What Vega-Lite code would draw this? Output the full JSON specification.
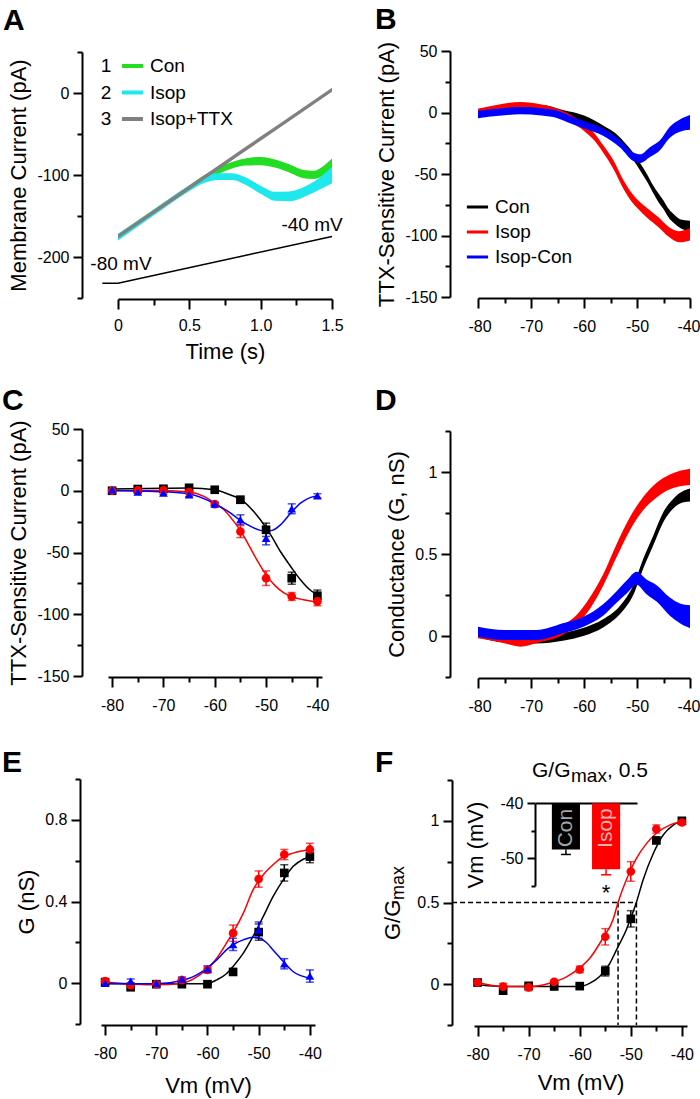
{
"$schema": "https://vega.github.io/schema/vega-lite/v6.json",
"width": 700, "height": 1099, "autosize": "none", "padding": 0, "background": "#ffffff",
"config": {
  "font": "Liberation Sans",
  "view": {"stroke": null},
  "axis": {"grid": false, "domainColor": "#000000", "domainWidth": 2, "tickColor": "#000000", "tickWidth": 2, "labelColor": "#000000", "titleColor": "#000000", "labelFontSize": 16, "titleFontSize": 22, "titleFontWeight": "normal", "labelFlush": false, "labelOverlap": false},
  "locale": {"number": {"decimal": ".", "thousands": ",", "grouping": [3], "currency": ["$", ""], "minus": "-"}}
},
"datasets": {
  "aTrace": [
    {"s":"Con","t":0,"lo":-178,"hi":-172},{"s":"Con","t":0.25,"lo":-148,"hi":-142},{"s":"Con","t":0.5,"lo":-118.5,"hi":-112.5},{"s":"Con","t":0.6,"lo":-107.5,"hi":-100.5},{"s":"Con","t":0.7,"lo":-99,"hi":-91},{"s":"Con","t":0.8,"lo":-92,"hi":-84},{"s":"Con","t":0.9,"lo":-88.5,"hi":-79.5},{"s":"Con","t":1.0,"lo":-88,"hi":-78},{"s":"Con","t":1.1,"lo":-91,"hi":-81},{"s":"Con","t":1.2,"lo":-97,"hi":-87},{"s":"Con","t":1.3,"lo":-104,"hi":-94},{"s":"Con","t":1.37,"lo":-105,"hi":-95},{"s":"Con","t":1.44,"lo":-101,"hi":-89},{"s":"Con","t":1.5,"lo":-96,"hi":-80},
    {"s":"Isop","t":0,"lo":-180,"hi":-172},{"s":"Isop","t":0.25,"lo":-149.5,"hi":-142.5},{"s":"Isop","t":0.5,"lo":-119.5,"hi":-112.5},{"s":"Isop","t":0.6,"lo":-110,"hi":-102},{"s":"Isop","t":0.7,"lo":-106,"hi":-98},{"s":"Isop","t":0.8,"lo":-106,"hi":-98},{"s":"Isop","t":0.9,"lo":-112.5,"hi":-103.5},{"s":"Isop","t":1.0,"lo":-123,"hi":-113},{"s":"Isop","t":1.1,"lo":-131.5,"hi":-120.5},{"s":"Isop","t":1.2,"lo":-132,"hi":-120},{"s":"Isop","t":1.3,"lo":-127,"hi":-115},{"s":"Isop","t":1.4,"lo":-119,"hi":-105},{"s":"Isop","t":1.5,"lo":-110,"hi":-90},
    {"s":"Isop+TTX","t":0,"lo":-177.5,"hi":-172.5},{"s":"Isop+TTX","t":0.25,"lo":-147.7,"hi":-142.7},{"s":"Isop+TTX","t":0.5,"lo":-117.9,"hi":-112.9},{"s":"Isop+TTX","t":0.75,"lo":-88,"hi":-83},{"s":"Isop+TTX","t":1.0,"lo":-58.2,"hi":-53.2},{"s":"Isop+TTX","t":1.25,"lo":-28.4,"hi":-23.4},{"s":"Isop+TTX","t":1.5,"lo":1.5,"hi":6.5}
  ],
  "aRamp": [{"t":-0.11,"v":-232},{"t":0,"v":-232},{"t":1.5,"v":-175}],
  "aLeg": [{"num":"1","label":"Con"},{"num":"2","label":"Isop"},{"num":"3","label":"Isop+TTX"}],
  "leg3": [{"s":"Con"},{"s":"Isop"},{"s":"Isop-Con"}],
  "bTrace": [
    {"s":"Con","v":-80,"lo":-2.2,"hi":2.8},{"s":"Con","v":-76,"lo":0,"hi":5},{"s":"Con","v":-72,"lo":1,"hi":6},{"s":"Con","v":-68,"lo":1,"hi":6},{"s":"Con","v":-64,"lo":-3,"hi":2},{"s":"Con","v":-60,"lo":-7.5,"hi":-2.5},{"s":"Con","v":-58,"lo":-11.5,"hi":-6.5},{"s":"Con","v":-56,"lo":-17.5,"hi":-11.5},{"s":"Con","v":-54,"lo":-23,"hi":-17},{"s":"Con","v":-52,"lo":-32,"hi":-26},{"s":"Con","v":-50,"lo":-43,"hi":-37},{"s":"Con","v":-49,"lo":-50,"hi":-44},{"s":"Con","v":-48,"lo":-57,"hi":-51},{"s":"Con","v":-47,"lo":-65,"hi":-59},{"s":"Con","v":-46,"lo":-72.5,"hi":-65.5},{"s":"Con","v":-45,"lo":-78.5,"hi":-71.5},{"s":"Con","v":-44,"lo":-85.5,"hi":-78.5},{"s":"Con","v":-43,"lo":-90,"hi":-83},{"s":"Con","v":-42,"lo":-93.5,"hi":-86.5},{"s":"Con","v":-41,"lo":-95.5,"hi":-87.5},{"s":"Con","v":-40,"lo":-96,"hi":-88},
    {"s":"Isop","v":-80,"lo":-3,"hi":3},{"s":"Isop","v":-76,"lo":0.5,"hi":6.5},{"s":"Isop","v":-72,"lo":2.5,"hi":8.5},{"s":"Isop","v":-68,"lo":0.5,"hi":6.5},{"s":"Isop","v":-65,"lo":-3,"hi":3},{"s":"Isop","v":-62.5,"lo":-8,"hi":-2},{"s":"Isop","v":-60,"lo":-15,"hi":-9},{"s":"Isop","v":-58,"lo":-23,"hi":-17},{"s":"Isop","v":-56.4,"lo":-32.5,"hi":-26.5},{"s":"Isop","v":-54.5,"lo":-45.5,"hi":-38.5},{"s":"Isop","v":-52.5,"lo":-62.5,"hi":-55.5},{"s":"Isop","v":-51,"lo":-72.5,"hi":-65.5},{"s":"Isop","v":-50,"lo":-77.5,"hi":-70.5},{"s":"Isop","v":-48,"lo":-86,"hi":-78},{"s":"Isop","v":-46,"lo":-93,"hi":-85},{"s":"Isop","v":-44,"lo":-101,"hi":-93},{"s":"Isop","v":-42,"lo":-105.5,"hi":-96.5},{"s":"Isop","v":-40,"lo":-104,"hi":-94},
    {"s":"Isop-Con","v":-80,"lo":-4.6,"hi":1.4},{"s":"Isop-Con","v":-76,"lo":-2.7,"hi":3.3},{"s":"Isop-Con","v":-72,"lo":-1.5,"hi":4.5},{"s":"Isop-Con","v":-68,"lo":-2.5,"hi":3.5},{"s":"Isop-Con","v":-65,"lo":-4.6,"hi":1.4},{"s":"Isop-Con","v":-62.5,"lo":-9,"hi":-3},{"s":"Isop-Con","v":-60,"lo":-13,"hi":-7},{"s":"Isop-Con","v":-56.4,"lo":-19,"hi":-13},{"s":"Isop-Con","v":-53.2,"lo":-28.5,"hi":-22.5},{"s":"Isop-Con","v":-50.7,"lo":-39.5,"hi":-32.5},{"s":"Isop-Con","v":-49.4,"lo":-41,"hi":-34},{"s":"Isop-Con","v":-47.5,"lo":-36,"hi":-28},{"s":"Isop-Con","v":-45.7,"lo":-30.8,"hi":-22.8},{"s":"Isop-Con","v":-43.8,"lo":-20.5,"hi":-11.5},{"s":"Isop-Con","v":-41.9,"lo":-15.6,"hi":-5.6},{"s":"Isop-Con","v":-40,"lo":-14,"hi":-2}
  ],
  "cPts": [
    {"s":"Con","v":-80,"m":0,"e":1},{"s":"Con","v":-75,"m":1.4,"e":1},{"s":"Con","v":-70,"m":1.6,"e":1},{"s":"Con","v":-65,"m":2.4,"e":1},{"s":"Con","v":-60,"m":0.8,"e":1},{"s":"Con","v":-55,"m":-7.3,"e":2.7},{"s":"Con","v":-50,"m":-31.6,"e":5.4},{"s":"Con","v":-45,"m":-70.8,"e":4.9},{"s":"Con","v":-40,"m":-85,"e":4.6},
    {"s":"Isop","v":-80,"m":0,"e":1},{"s":"Isop","v":-75,"m":0.3,"e":1},{"s":"Isop","v":-70,"m":0.3,"e":1},{"s":"Isop","v":-65,"m":-1,"e":1},{"s":"Isop","v":-60,"m":-10.8,"e":1.4},{"s":"Isop","v":-55,"m":-33,"e":4.9},{"s":"Isop","v":-50,"m":-70.8,"e":5.9},{"s":"Isop","v":-45,"m":-85.6,"e":3.2},{"s":"Isop","v":-40,"m":-89.6,"e":3.5},
    {"s":"Isop-Con","v":-80,"m":0.8,"e":1},{"s":"Isop-Con","v":-75,"m":-1,"e":1},{"s":"Isop-Con","v":-70,"m":-1.9,"e":1},{"s":"Isop-Con","v":-65,"m":-3.2,"e":1.5},{"s":"Isop-Con","v":-60,"m":-10.8,"e":1.4},{"s":"Isop-Con","v":-55,"m":-23.5,"e":4},{"s":"Isop-Con","v":-50,"m":-38.4,"e":5.4},{"s":"Isop-Con","v":-45,"m":-14.6,"e":4},{"s":"Isop-Con","v":-40,"m":-4,"e":1.6}
  ],
  "cFit": [
    {"s":"Con","v":-80,"y":1.4},{"s":"Con","v":-70,"y":2},{"s":"Con","v":-65,"y":2.2},{"s":"Con","v":-60,"y":0.8},{"s":"Con","v":-56.9,"y":-3.5},{"s":"Con","v":-55,"y":-6.8},{"s":"Con","v":-53,"y":-14.1},{"s":"Con","v":-51.1,"y":-23.5},{"s":"Con","v":-49.1,"y":-35.7},{"s":"Con","v":-47.2,"y":-49.2},{"s":"Con","v":-45.2,"y":-61.3},{"s":"Con","v":-43.3,"y":-72.1},{"s":"Con","v":-41.3,"y":-80.8},{"s":"Con","v":-40,"y":-84.3},
    {"s":"Isop","v":-80,"y":0},{"s":"Isop","v":-70,"y":0.3},{"s":"Isop","v":-65,"y":-1},{"s":"Isop","v":-62.1,"y":-4.6},{"s":"Isop","v":-60,"y":-10},{"s":"Isop","v":-58.2,"y":-15.4},{"s":"Isop","v":-56.3,"y":-24.8},{"s":"Isop","v":-55,"y":-32.1},{"s":"Isop","v":-53.4,"y":-43.8},{"s":"Isop","v":-51.8,"y":-55.9},{"s":"Isop","v":-50,"y":-68.1},{"s":"Isop","v":-48.2,"y":-77},{"s":"Isop","v":-46.6,"y":-82.4},{"s":"Isop","v":-44.7,"y":-86.2},{"s":"Isop","v":-42.7,"y":-88.3},{"s":"Isop","v":-40,"y":-90.2},
    {"s":"Isop-Con","v":-80,"y":0.3},{"s":"Isop-Con","v":-70,"y":-0.8},{"s":"Isop-Con","v":-65,"y":-2.7},{"s":"Isop-Con","v":-60,"y":-10.5},{"s":"Isop-Con","v":-56.9,"y":-18.1},{"s":"Isop-Con","v":-55,"y":-24},{"s":"Isop-Con","v":-53,"y":-28.9},{"s":"Isop-Con","v":-51.1,"y":-32.1},{"s":"Isop-Con","v":-49.9,"y":-32.7},{"s":"Isop-Con","v":-48.8,"y":-32.1},{"s":"Isop-Con","v":-47.2,"y":-27.6},{"s":"Isop-Con","v":-45.2,"y":-18.1},{"s":"Isop-Con","v":-43.3,"y":-10},{"s":"Isop-Con","v":-41.3,"y":-5.4},{"s":"Isop-Con","v":-40,"y":-4}
  ],
  "dTrace": [
    {"s":"Con","v":-80,"lo":-0.009,"hi":0.041},{"s":"Con","v":-75,"lo":-0.039,"hi":0.011},{"s":"Con","v":-69,"lo":-0.045,"hi":0.005},{"s":"Con","v":-64,"lo":-0.029,"hi":0.021},{"s":"Con","v":-60,"lo":0.001,"hi":0.051},{"s":"Con","v":-56.4,"lo":0.052,"hi":0.102},{"s":"Con","v":-53.2,"lo":0.134,"hi":0.184},{"s":"Con","v":-50.7,"lo":0.25,"hi":0.31},{"s":"Con","v":-48.8,"lo":0.413,"hi":0.473},{"s":"Con","v":-46.9,"lo":0.555,"hi":0.615},{"s":"Con","v":-45,"lo":0.697,"hi":0.757},{"s":"Con","v":-43.1,"lo":0.779,"hi":0.839},{"s":"Con","v":-41.2,"lo":0.815,"hi":0.885},{"s":"Con","v":-40,"lo":0.82,"hi":0.9},
    {"s":"Isop","v":-80,"lo":-0.014,"hi":0.046},{"s":"Isop","v":-75,"lo":-0.044,"hi":0.016},{"s":"Isop","v":-72,"lo":-0.065,"hi":-0.005},{"s":"Isop","v":-69,"lo":-0.044,"hi":0.016},{"s":"Isop","v":-64,"lo":0.007,"hi":0.067},{"s":"Isop","v":-61.4,"lo":0.068,"hi":0.128},{"s":"Isop","v":-58.9,"lo":0.165,"hi":0.235},{"s":"Isop","v":-56.4,"lo":0.305,"hi":0.375},{"s":"Isop","v":-53.8,"lo":0.484,"hi":0.564},{"s":"Isop","v":-51.3,"lo":0.647,"hi":0.727},{"s":"Isop","v":-48.8,"lo":0.769,"hi":0.849},{"s":"Isop","v":-46.3,"lo":0.845,"hi":0.935},{"s":"Isop","v":-43.8,"lo":0.895,"hi":0.985},{"s":"Isop","v":-40,"lo":0.92,"hi":1.02},
    {"s":"Isop-Con","v":-80,"lo":-0.004,"hi":0.056},{"s":"Isop-Con","v":-75,"lo":-0.024,"hi":0.036},{"s":"Isop-Con","v":-69,"lo":-0.024,"hi":0.036},{"s":"Isop-Con","v":-64,"lo":0.017,"hi":0.077},{"s":"Isop-Con","v":-60.1,"lo":0.057,"hi":0.117},{"s":"Isop-Con","v":-56.4,"lo":0.124,"hi":0.194},{"s":"Isop-Con","v":-53.8,"lo":0.205,"hi":0.275},{"s":"Isop-Con","v":-51.9,"lo":0.26,"hi":0.34},{"s":"Isop-Con","v":-50.1,"lo":0.312,"hi":0.392},{"s":"Isop-Con","v":-48.2,"lo":0.255,"hi":0.345},{"s":"Isop-Con","v":-46.3,"lo":0.21,"hi":0.31},{"s":"Isop-Con","v":-43.8,"lo":0.124,"hi":0.234},{"s":"Isop-Con","v":-41.9,"lo":0.078,"hi":0.198},{"s":"Isop-Con","v":-40,"lo":0.048,"hi":0.188}
  ],
  "ePts": [
    {"s":"Con","v":-80,"m":0.005,"e":0.01},{"s":"Con","v":-75,"m":-0.02,"e":0.01},{"s":"Con","v":-70,"m":-0.005,"e":0.005},{"s":"Con","v":-65,"m":-0.005,"e":0.005},{"s":"Con","v":-60,"m":-0.005,"e":0.005},{"s":"Con","v":-55,"m":0.055,"e":0.015},{"s":"Con","v":-50,"m":0.25,"e":0.04},{"s":"Con","v":-45,"m":0.54,"e":0.04},{"s":"Con","v":-40,"m":0.62,"e":0.03},
    {"s":"Isop","v":-80,"m":0.01,"e":0.01},{"s":"Isop","v":-75,"m":-0.01,"e":0.01},{"s":"Isop","v":-70,"m":-0.005,"e":0.01},{"s":"Isop","v":-65,"m":0.015,"e":0.01},{"s":"Isop","v":-60,"m":0.065,"e":0.015},{"s":"Isop","v":-55,"m":0.245,"e":0.04},{"s":"Isop","v":-50,"m":0.51,"e":0.04},{"s":"Isop","v":-45,"m":0.63,"e":0.025},{"s":"Isop","v":-40,"m":0.655,"e":0.03},
    {"s":"Isop-Con","v":-80,"m":0,"e":0.01},{"s":"Isop-Con","v":-75,"m":0.01,"e":0.01},{"s":"Isop-Con","v":-70,"m":0,"e":0.01},{"s":"Isop-Con","v":-65,"m":0.02,"e":0.01},{"s":"Isop-Con","v":-60,"m":0.07,"e":0.015},{"s":"Isop-Con","v":-55,"m":0.19,"e":0.03},{"s":"Isop-Con","v":-50,"m":0.26,"e":0.04},{"s":"Isop-Con","v":-45,"m":0.095,"e":0.025},{"s":"Isop-Con","v":-40,"m":0.035,"e":0.03}
  ],
  "eFit": [
    {"s":"Con","v":-80,"y":-0.003},{"s":"Con","v":-60.2,"y":-0.003},{"s":"Con","v":-58.2,"y":0.016},{"s":"Con","v":-56.3,"y":0.046},{"s":"Con","v":-55,"y":0.082},{"s":"Con","v":-53,"y":0.147},{"s":"Con","v":-51.1,"y":0.229},{"s":"Con","v":-49.1,"y":0.327},{"s":"Con","v":-47.2,"y":0.424},{"s":"Con","v":-45.2,"y":0.506},{"s":"Con","v":-43.3,"y":0.571},{"s":"Con","v":-41.3,"y":0.607},{"s":"Con","v":-40,"y":0.62},
    {"s":"Isop","v":-80,"y":0.005},{"s":"Isop","v":-70,"y":-0.008},{"s":"Isop","v":-65,"y":0},{"s":"Isop","v":-61.5,"y":0.041},{"s":"Isop","v":-59.9,"y":0.073},{"s":"Isop","v":-58.2,"y":0.122},{"s":"Isop","v":-56.3,"y":0.196},{"s":"Isop","v":-54.7,"y":0.261},{"s":"Isop","v":-53,"y":0.343},{"s":"Isop","v":-51.1,"y":0.457},{"s":"Isop","v":-49.1,"y":0.531},{"s":"Isop","v":-47.2,"y":0.58},{"s":"Isop","v":-45.2,"y":0.62},{"s":"Isop","v":-43.3,"y":0.637},{"s":"Isop","v":-40,"y":0.653},
    {"s":"Isop-Con","v":-80,"y":0},{"s":"Isop-Con","v":-70,"y":-0.003},{"s":"Isop-Con","v":-65,"y":0.013},{"s":"Isop-Con","v":-61.5,"y":0.049},{"s":"Isop-Con","v":-59.9,"y":0.078},{"s":"Isop-Con","v":-58.2,"y":0.114},{"s":"Isop-Con","v":-56.3,"y":0.163},{"s":"Isop-Con","v":-54.7,"y":0.193},{"s":"Isop-Con","v":-53,"y":0.212},{"s":"Isop-Con","v":-51.1,"y":0.225},{"s":"Isop-Con","v":-49.8,"y":0.22},{"s":"Isop-Con","v":-48.5,"y":0.199},{"s":"Isop-Con","v":-47.2,"y":0.163},{"s":"Isop-Con","v":-45.2,"y":0.106},{"s":"Isop-Con","v":-43.3,"y":0.057},{"s":"Isop-Con","v":-40,"y":0.024}
  ],
  "fPts": [
    {"s":"Con","v":-80,"m":0.01,"e":0.01},{"s":"Con","v":-75,"m":-0.04,"e":0.02},{"s":"Con","v":-70,"m":-0.01,"e":0.01},{"s":"Con","v":-65,"m":-0.014,"e":0.01},{"s":"Con","v":-60,"m":-0.012,"e":0.01},{"s":"Con","v":-55,"m":0.08,"e":0.03},{"s":"Con","v":-50,"m":0.4,"e":0.05},{"s":"Con","v":-45,"m":0.88,"e":0.015},{"s":"Con","v":-40,"m":1.0,"e":0.01},
    {"s":"Isop","v":-80,"m":0.01,"e":0.01},{"s":"Isop","v":-75,"m":-0.015,"e":0.02},{"s":"Isop","v":-70,"m":-0.02,"e":0.02},{"s":"Isop","v":-65,"m":0.015,"e":0.01},{"s":"Isop","v":-60,"m":0.09,"e":0.02},{"s":"Isop","v":-55,"m":0.29,"e":0.05},{"s":"Isop","v":-50,"m":0.69,"e":0.06},{"s":"Isop","v":-45,"m":0.95,"e":0.025},{"s":"Isop","v":-40,"m":0.99,"e":0.01}
  ],
  "fFit": [
    {"s":"Con","v":-80,"y":-0.004},{"s":"Con","v":-75,"y":-0.014},{"s":"Con","v":-60,"y":-0.014},{"s":"Con","v":-58,"y":0.006},{"s":"Con","v":-56.1,"y":0.047},{"s":"Con","v":-54.1,"y":0.128},{"s":"Con","v":-52.8,"y":0.21},{"s":"Con","v":-50.9,"y":0.332},{"s":"Con","v":-48.9,"y":0.501},{"s":"Con","v":-47.6,"y":0.638},{"s":"Con","v":-45.6,"y":0.8},{"s":"Con","v":-43.7,"y":0.912},{"s":"Con","v":-41.7,"y":0.974},{"s":"Con","v":-40,"y":1.0},
    {"s":"Isop","v":-80,"y":0.01},{"s":"Isop","v":-75,"y":-0.014},{"s":"Isop","v":-69.8,"y":-0.014},{"s":"Isop","v":-65.9,"y":0.006},{"s":"Isop","v":-62.6,"y":0.045},{"s":"Isop","v":-60,"y":0.1},{"s":"Isop","v":-58,"y":0.16},{"s":"Isop","v":-55.4,"y":0.285},{"s":"Isop","v":-53.5,"y":0.393},{"s":"Isop","v":-52.5,"y":0.5},{"s":"Isop","v":-50.9,"y":0.638},{"s":"Isop","v":-48.9,"y":0.77},{"s":"Isop","v":-46.9,"y":0.862},{"s":"Isop","v":-45,"y":0.924},{"s":"Isop","v":-42.4,"y":0.974},{"s":"Isop","v":-40,"y":0.994}
  ],
  "fHalf": [{"s":"Isop","v50":-52.5},{"s":"Con","v50":-48.9}],
  "inset": [{"cond":"Con","vm":-48.4,"lo":-49.3,"sig":""},{"cond":"Isop","vm":-52.0,"lo":-53.0,"sig":"*"}]
},
"layer": [
  {
    "resolve": {"axis": {"x": "independent", "y": "independent"}},
    "layer": [
      {"data": {"name": "aTrace"}, "transform": [{"filter": "datum.s === 'Con'"}],
       "mark": {"type": "area", "interpolate": "monotone", "color": "#22dd22", "opacity": 1},
       "encoding": {
         "x": {"field": "t", "type": "quantitative", "scale": {"domain": [0, 1.5], "range": [118, 332], "nice": false, "zero": false},
               "axis": {"orient": "bottom", "offset": -800, "values": [0, 0.5, 1, 1.5], "tickSize": 10, "labelPadding": 8, "labelExpr": "datum.value == 0 ? '0' : format(datum.value, '.1f')", "title": "Time (s)", "titlePadding": 8}},
         "y": {"field": "lo", "type": "quantitative", "scale": {"domain": [-250, 50], "range": [298, 52], "nice": false, "zero": false},
               "axis": {"orient": "left", "offset": -82, "values": [0, -100, -200], "tickSize": 9, "labelPadding": 4, "format": "~f", "title": "Membrane Current (pA)", "titlePadding": 6}},
         "y2": {"field": "hi"}}},
      {"data": {"name": "aTrace"}, "transform": [{"filter": "datum.s === 'Isop'"}],
       "mark": {"type": "area", "interpolate": "monotone", "color": "#1ee8ee", "opacity": 1},
       "encoding": {
         "x": {"field": "t", "type": "quantitative", "scale": {"domain": [0, 1.5], "range": [118, 332], "nice": false, "zero": false},
               "axis": {"orient": "bottom", "offset": -800, "values": [0.25, 0.75, 1.25], "tickSize": 6, "labels": false, "domain": false, "title": null}},
         "y": {"field": "lo", "type": "quantitative", "scale": {"domain": [-250, 50], "range": [298, 52], "nice": false, "zero": false},
               "axis": {"orient": "left", "offset": -82, "values": [50, -50, -150, -250], "tickSize": 5, "labels": false, "domain": false, "title": null}},
         "y2": {"field": "hi"}}},
      {"data": {"name": "aTrace"}, "transform": [{"filter": "datum.s === 'Isop+TTX'"}],
       "mark": {"type": "area", "interpolate": "monotone", "color": "#808080", "opacity": 1},
       "encoding": {
         "x": {"field": "t", "type": "quantitative", "scale": {"domain": [0, 1.5], "range": [118, 332], "nice": false, "zero": false}, "axis": null},
         "y": {"field": "lo", "type": "quantitative", "scale": {"domain": [-250, 50], "range": [298, 52], "nice": false, "zero": false}, "axis": null},
         "y2": {"field": "hi"}}},
      {"data": {"name": "aRamp"}, "mark": {"type": "line", "color": "#000000", "strokeWidth": 1.5},
       "encoding": {
         "x": {"field": "t", "type": "quantitative", "scale": {"domain": [0, 1.5], "range": [118, 332], "nice": false, "zero": false}, "axis": null},
         "y": {"field": "v", "type": "quantitative", "scale": {"domain": [-250, 50], "range": [298, 52], "nice": false, "zero": false}, "axis": null}}},
      {"data": {"values": [{"label": "-80 mV"}]}, "mark": {"type": "text", "fontSize": 19, "align": "center", "baseline": "middle"},
       "encoding": {"x": {"datum": 0.021, "type": "quantitative", "axis": null}, "y": {"datum": -208.5, "type": "quantitative", "axis": null}, "text": {"field": "label"}}},
      {"data": {"values": [{"label": "-40 mV"}]}, "mark": {"type": "text", "fontSize": 19, "align": "center", "baseline": "middle"},
       "encoding": {"x": {"datum": 1.36, "type": "quantitative", "axis": null}, "y": {"datum": -161, "type": "quantitative", "axis": null}, "text": {"field": "label"}}},
      {"data": {"values": [{"label": "A"}]}, "mark": {"type": "text", "fontSize": 30, "fontWeight": "bold", "align": "left", "baseline": "alphabetic"},
       "encoding": {"x": {"datum": -0.806, "type": "quantitative", "axis": null}, "y": {"datum": 76.8, "type": "quantitative", "axis": null}, "text": {"field": "label"}}}
    ]
  },
  {
    "data": {"name": "aLeg"},
    "layer": [
      {"mark": {"type": "text", "fontSize": 19, "align": "center", "baseline": "middle"},
       "encoding": {
         "x": {"datum": -0.084, "type": "quantitative", "scale": {"domain": [0, 1.5], "range": [118, 332], "nice": false, "zero": false}, "axis": null},
         "y": {"field": "label", "type": "nominal", "scale": {"type": "point", "domain": ["Con", "Isop", "Isop+TTX"], "range": [66, 119], "padding": 0}, "axis": null},
         "text": {"field": "num"}}},
      {"mark": {"type": "rule", "strokeWidth": 4},
       "encoding": {
         "x": {"datum": 0.028, "type": "quantitative", "axis": null},
         "x2": {"datum": 0.175},
         "y": {"field": "label", "type": "nominal", "axis": null},
         "color": {"field": "label", "type": "nominal", "scale": {"domain": ["Con", "Isop", "Isop+TTX"], "range": ["#22dd22", "#1ee8ee", "#808080"]}, "legend": null}}},
      {"mark": {"type": "text", "fontSize": 19, "align": "left", "baseline": "middle"},
       "encoding": {
         "x": {"datum": 0.224, "type": "quantitative", "axis": null},
         "y": {"field": "label", "type": "nominal", "axis": null},
         "text": {"field": "label"}}}
    ]
  },
  {
    "resolve": {"axis": {"x": "independent", "y": "independent"}},
    "layer": [
      {"data": {"name": "bTrace"}, "transform": [{"filter": "datum.s === 'Con'"}],
       "mark": {"type": "area", "interpolate": "monotone", "color": "#000000", "opacity": 1},
       "encoding": {
         "x": {"field": "v", "type": "quantitative", "scale": {"domain": [-80, -40], "range": [478, 690], "nice": false, "zero": false},
               "axis": {"orient": "bottom", "offset": -801, "values": [-80, -70, -60, -50, -40], "tickSize": 10, "labelPadding": 10, "format": "~f", "labelFlush": true, "labelFlushOffset": 10, "title": null}},
         "y": {"field": "lo", "type": "quantitative", "scale": {"domain": [-150, 50], "range": [297, 51], "nice": false, "zero": false},
               "axis": {"orient": "left", "offset": -450, "values": [50, 0, -50, -100, -150], "tickSize": 9, "labelPadding": 4, "format": "~f", "title": "TTX-Sensitive Current (pA)", "titlePadding": 6}},
         "y2": {"field": "hi"}}},
      {"data": {"name": "bTrace"}, "transform": [{"filter": "datum.s === 'Isop'"}],
       "mark": {"type": "area", "interpolate": "monotone", "color": "#ff0000", "opacity": 1},
       "encoding": {
         "x": {"field": "v", "type": "quantitative", "scale": {"domain": [-80, -40], "range": [478, 690], "nice": false, "zero": false},
               "axis": {"orient": "bottom", "offset": -801, "values": [-75, -65, -55, -45], "tickSize": 5, "labels": false, "domain": false, "title": null}},
         "y": {"field": "lo", "type": "quantitative", "scale": {"domain": [-150, 50], "range": [297, 51], "nice": false, "zero": false},
               "axis": {"orient": "left", "offset": -450, "values": [25, -25, -75, -125], "tickSize": 5, "labels": false, "domain": false, "title": null}},
         "y2": {"field": "hi"}}},
      {"data": {"name": "bTrace"}, "transform": [{"filter": "datum.s === 'Isop-Con'"}],
       "mark": {"type": "area", "interpolate": "monotone", "color": "#0000ff", "opacity": 1},
       "encoding": {
         "x": {"field": "v", "type": "quantitative", "scale": {"domain": [-80, -40], "range": [478, 690], "nice": false, "zero": false}, "axis": null},
         "y": {"field": "lo", "type": "quantitative", "scale": {"domain": [-150, 50], "range": [297, 51], "nice": false, "zero": false}, "axis": null},
         "y2": {"field": "hi"}}},
      {"data": {"values": [{"label": "B"}]}, "mark": {"type": "text", "fontSize": 30, "fontWeight": "bold", "align": "left", "baseline": "alphabetic"},
       "encoding": {"x": {"datum": -99.43, "type": "quantitative", "axis": null}, "y": {"datum": 67.9, "type": "quantitative", "axis": null}, "text": {"field": "label"}}}
    ]
  },
  {
    "data": {"name": "leg3"},
    "layer": [
      {"mark": {"type": "rule", "strokeWidth": 3},
       "encoding": {
         "x": {"datum": -82.1, "type": "quantitative", "scale": {"domain": [-80, -40], "range": [478, 690], "nice": false, "zero": false}, "axis": null},
         "x2": {"datum": -78.1},
         "y": {"field": "s", "type": "nominal", "scale": {"type": "point", "domain": ["Con", "Isop", "Isop-Con"], "range": [207, 257], "padding": 0}, "axis": null},
         "color": {"field": "s", "type": "nominal", "scale": {"domain": ["Con", "Isop", "Isop-Con"], "range": ["#000000", "#ff0000", "#0000ff"]}, "legend": null}}},
      {"mark": {"type": "text", "fontSize": 19, "align": "left", "baseline": "middle"},
       "encoding": {
         "x": {"datum": -76.8, "type": "quantitative", "axis": null},
         "y": {"field": "s", "type": "nominal", "axis": null},
         "text": {"field": "s"}}}
    ]
  },
  {
    "resolve": {"axis": {"x": "independent", "y": "independent"}},
    "layer": [
      {"data": {"name": "cFit"}, "mark": {"type": "line", "interpolate": "monotone", "strokeWidth": 1.5},
       "encoding": {
         "x": {"field": "v", "type": "quantitative", "scale": {"domain": [-80.8, -39.1], "range": [108, 322], "nice": false, "zero": false},
               "axis": {"orient": "bottom", "offset": -422, "values": [-80, -70, -60, -50, -40], "tickSize": 10, "labelPadding": 10, "format": "~f", "title": null}},
         "y": {"field": "y", "type": "quantitative", "scale": {"domain": [-150, 50], "range": [676, 429], "nice": false, "zero": false},
               "axis": {"orient": "left", "offset": -82, "values": [50, 0, -50, -100, -150], "tickSize": 9, "labelPadding": 4, "format": "~f", "title": "TTX-Sensitive Current (pA)", "titlePadding": 6}},
         "color": {"field": "s", "type": "nominal", "scale": {"domain": ["Con", "Isop", "Isop-Con"], "range": ["#000000", "#ff0000", "#0000ff"]}, "legend": null}}},
      {"data": {"name": "cPts"}, "mark": {"type": "errorbar", "ticks": true, "size": 8, "thickness": 1.5},
       "encoding": {
         "x": {"field": "v", "type": "quantitative", "axis": null},
         "y": {"field": "m", "type": "quantitative", "axis": null},
         "yError": {"field": "e"},
         "color": {"field": "s", "type": "nominal", "legend": null}}},
      {"data": {"name": "cPts"}, "mark": {"type": "point", "filled": true, "size": 75, "opacity": 1},
       "encoding": {
         "x": {"field": "v", "type": "quantitative",
               "axis": {"orient": "bottom", "offset": -422, "values": [-75, -65, -55, -45], "tickSize": 5, "labels": false, "domain": false, "title": null}},
         "y": {"field": "m", "type": "quantitative",
               "axis": {"orient": "left", "offset": -82, "values": [25, -25, -75, -125], "tickSize": 5, "labels": false, "domain": false, "title": null}},
         "color": {"field": "s", "type": "nominal", "legend": null},
         "shape": {"field": "s", "type": "nominal", "scale": {"domain": ["Con", "Isop", "Isop-Con"], "range": ["square", "circle", "triangle-up"]}, "legend": null}}},
      {"data": {"values": [{"label": "C"}]}, "mark": {"type": "text", "fontSize": 30, "fontWeight": "bold", "align": "left", "baseline": "alphabetic"},
       "encoding": {"x": {"datum": -101.46, "type": "quantitative", "axis": null}, "y": {"datum": 65.4, "type": "quantitative", "axis": null}, "text": {"field": "label"}}}
    ]
  },
  {
    "resolve": {"axis": {"x": "independent", "y": "independent"}},
    "layer": [
      {"data": {"name": "dTrace"}, "transform": [{"filter": "datum.s === 'Con'"}],
       "mark": {"type": "area", "interpolate": "monotone", "color": "#000000", "opacity": 1},
       "encoding": {
         "x": {"field": "v", "type": "quantitative", "scale": {"domain": [-80, -40], "range": [478, 690], "nice": false, "zero": false},
               "axis": {"orient": "bottom", "offset": -421, "values": [-80, -70, -60, -50, -40], "tickSize": 10, "labelPadding": 10, "format": "~f", "labelFlush": true, "labelFlushOffset": 10, "title": null}},
         "y": {"field": "lo", "type": "quantitative", "scale": {"domain": [-0.25, 1.25], "range": [677, 431], "nice": false, "zero": false},
               "axis": {"orient": "left", "offset": -450, "values": [0, 0.5, 1], "tickSize": 9, "labelPadding": 4, "format": "~f", "title": "Conductance (G, nS)", "titlePadding": 6}},
         "y2": {"field": "hi"}}},
      {"data": {"name": "dTrace"}, "transform": [{"filter": "datum.s === 'Isop'"}],
       "mark": {"type": "area", "interpolate": "monotone", "color": "#ff0000", "opacity": 1},
       "encoding": {
         "x": {"field": "v", "type": "quantitative", "scale": {"domain": [-80, -40], "range": [478, 690], "nice": false, "zero": false},
               "axis": {"orient": "bottom", "offset": -421, "values": [-75, -65, -55, -45], "tickSize": 5, "labels": false, "domain": false, "title": null}},
         "y": {"field": "lo", "type": "quantitative", "scale": {"domain": [-0.25, 1.25], "range": [677, 431], "nice": false, "zero": false},
               "axis": {"orient": "left", "offset": -450, "values": [-0.25, 0.25, 0.75, 1.25], "tickSize": 5, "labels": false, "domain": false, "title": null}},
         "y2": {"field": "hi"}}},
      {"data": {"name": "dTrace"}, "transform": [{"filter": "datum.s === 'Isop-Con'"}],
       "mark": {"type": "area", "interpolate": "monotone", "color": "#0000ff", "opacity": 1},
       "encoding": {
         "x": {"field": "v", "type": "quantitative", "scale": {"domain": [-80, -40], "range": [478, 690], "nice": false, "zero": false}, "axis": null},
         "y": {"field": "lo", "type": "quantitative", "scale": {"domain": [-0.25, 1.25], "range": [677, 431], "nice": false, "zero": false}, "axis": null},
         "y2": {"field": "hi"}}},
      {"data": {"values": [{"label": "D"}]}, "mark": {"type": "text", "fontSize": 30, "fontWeight": "bold", "align": "left", "baseline": "alphabetic"},
       "encoding": {"x": {"datum": -99.43, "type": "quantitative", "axis": null}, "y": {"datum": 1.378, "type": "quantitative", "axis": null}, "text": {"field": "label"}}}
    ]
  },
  {
    "resolve": {"axis": {"x": "independent", "y": "independent"}},
    "layer": [
      {"data": {"name": "eFit"}, "mark": {"type": "line", "interpolate": "monotone", "strokeWidth": 1.5},
       "encoding": {
         "x": {"field": "v", "type": "quantitative", "scale": {"domain": [-80.8, -39], "range": [101, 315], "nice": false, "zero": false},
               "axis": {"orient": "bottom", "offset": -74, "values": [-80, -70, -60, -50, -40], "tickSize": 10, "labelPadding": 10, "format": "~f", "title": "Vm (mV)", "titlePadding": 14}},
         "y": {"field": "y", "type": "quantitative", "scale": {"domain": [-0.2, 1], "range": [1024, 779], "nice": false, "zero": false},
               "axis": {"orient": "left", "offset": -80, "values": [0, 0.4, 0.8], "tickSize": 9, "labelPadding": 4, "format": "~f", "title": "G (nS)", "titlePadding": 6}},
         "color": {"field": "s", "type": "nominal", "scale": {"domain": ["Con", "Isop", "Isop-Con"], "range": ["#000000", "#ff0000", "#0000ff"]}, "legend": null}}},
      {"data": {"name": "ePts"}, "mark": {"type": "errorbar", "ticks": true, "size": 8, "thickness": 1.5},
       "encoding": {
         "x": {"field": "v", "type": "quantitative", "axis": null},
         "y": {"field": "m", "type": "quantitative", "axis": null},
         "yError": {"field": "e"},
         "color": {"field": "s", "type": "nominal", "legend": null}}},
      {"data": {"name": "ePts"}, "mark": {"type": "point", "filled": true, "size": 75, "opacity": 1},
       "encoding": {
         "x": {"field": "v", "type": "quantitative",
               "axis": {"orient": "bottom", "offset": -74, "values": [-75, -65, -55, -45], "tickSize": 5, "labels": false, "domain": false, "title": null}},
         "y": {"field": "m", "type": "quantitative",
               "axis": {"orient": "left", "offset": -80, "values": [-0.2, 0.2, 0.6, 1], "tickSize": 5, "labels": false, "domain": false, "title": null}},
         "color": {"field": "s", "type": "nominal", "legend": null},
         "shape": {"field": "s", "type": "nominal", "scale": {"domain": ["Con", "Isop", "Isop-Con"], "range": ["square", "circle", "triangle-up"]}, "legend": null}}},
      {"data": {"values": [{"label": "E"}]}, "mark": {"type": "text", "fontSize": 30, "fontWeight": "bold", "align": "left", "baseline": "alphabetic"},
       "encoding": {"x": {"datum": -100.14, "type": "quantitative", "axis": null}, "y": {"datum": 1.034, "type": "quantitative", "axis": null}, "text": {"field": "label"}}}
    ]
  },
  {
    "resolve": {"axis": {"x": "independent", "y": "independent"}},
    "layer": [
      {"data": {"name": "fHalf"}, "mark": {"type": "rule", "strokeDash": [5, 3], "strokeWidth": 1.5, "color": "#000000"},
       "encoding": {
         "x": {"field": "v50", "type": "quantitative", "scale": {"domain": [-80.7, -39], "range": [474, 687], "nice": false, "zero": false}, "axis": null},
         "y": {"datum": 0.5, "type": "quantitative", "scale": {"domain": [-0.25, 1.25], "range": [1025, 780], "nice": false, "zero": false}, "axis": null},
         "y2": {"datum": -0.25}}},
      {"data": {"values": [{"k": 1}]}, "mark": {"type": "rule", "strokeDash": [5, 3], "strokeWidth": 1.5, "color": "#000000"},
       "encoding": {
         "x": {"datum": -85, "type": "quantitative", "axis": null},
         "x2": {"datum": -48.9},
         "y": {"datum": 0.5, "type": "quantitative", "axis": null}}},
      {"data": {"name": "fFit"}, "mark": {"type": "line", "interpolate": "monotone", "strokeWidth": 1.5},
       "encoding": {
         "x": {"field": "v", "type": "quantitative",
               "axis": {"orient": "bottom", "offset": -73, "values": [-80, -70, -60, -50, -40], "tickSize": 10, "labelPadding": 10, "format": "~f", "title": "Vm (mV)", "titlePadding": 10}},
         "y": {"field": "y", "type": "quantitative",
               "axis": {"orient": "left", "offset": -452, "values": [0, 0.5, 1], "tickSize": 9, "labelPadding": 4, "format": "~f", "title": null}},
         "color": {"field": "s", "type": "nominal", "scale": {"domain": ["Con", "Isop"], "range": ["#000000", "#ff0000"]}, "legend": null}}},
      {"data": {"name": "fPts"}, "mark": {"type": "errorbar", "ticks": true, "size": 8, "thickness": 1.5},
       "encoding": {
         "x": {"field": "v", "type": "quantitative", "axis": null},
         "y": {"field": "m", "type": "quantitative", "axis": null},
         "yError": {"field": "e"},
         "color": {"field": "s", "type": "nominal", "legend": null}}},
      {"data": {"name": "fPts"}, "mark": {"type": "point", "filled": true, "size": 75, "opacity": 1},
       "encoding": {
         "x": {"field": "v", "type": "quantitative",
               "axis": {"orient": "bottom", "offset": -73, "values": [-75, -65, -55, -45], "tickSize": 5, "labels": false, "domain": false, "title": null}},
         "y": {"field": "m", "type": "quantitative",
               "axis": {"orient": "left", "offset": -452, "values": [-0.25, 0.25, 0.75, 1.25], "tickSize": 5, "labels": false, "domain": false, "title": null}},
         "color": {"field": "s", "type": "nominal", "legend": null},
         "shape": {"field": "s", "type": "nominal", "scale": {"domain": ["Con", "Isop"], "range": ["square", "circle"]}, "legend": null}}},
      {"data": {"values": [{"label": "F"}]}, "mark": {"type": "text", "fontSize": 30, "fontWeight": "bold", "align": "left", "baseline": "alphabetic"},
       "encoding": {"x": {"datum": -100.08, "type": "quantitative", "axis": null}, "y": {"datum": 1.299, "type": "quantitative", "axis": null}, "text": {"field": "label"}}},
      {"data": {"values": [{"label": "G/G"}]}, "mark": {"type": "text", "fontSize": 22, "angle": 270, "align": "left", "baseline": "alphabetic"},
       "encoding": {"x": {"datum": -95.19, "type": "quantitative", "axis": null}, "y": {"datum": 0.27, "type": "quantitative", "axis": null}, "text": {"field": "label"}}},
      {"data": {"values": [{"label": "max"}]}, "mark": {"type": "text", "fontSize": 18, "angle": 270, "align": "left", "baseline": "alphabetic"},
       "encoding": {"x": {"datum": -94.4, "type": "quantitative", "axis": null}, "y": {"datum": 0.515, "type": "quantitative", "axis": null}, "text": {"field": "label"}}},
      {"data": {"values": [{"label": "G/G"}]}, "mark": {"type": "text", "fontSize": 21, "align": "left", "baseline": "alphabetic"},
       "encoding": {"x": {"datum": -69.35, "type": "quantitative", "axis": null}, "y": {"datum": 1.27, "type": "quantitative", "axis": null}, "text": {"field": "label"}}},
      {"data": {"values": [{"label": "max"}]}, "mark": {"type": "text", "fontSize": 19, "align": "left", "baseline": "alphabetic"},
       "encoding": {"x": {"datum": -61.71, "type": "quantitative", "axis": null}, "y": {"datum": 1.238, "type": "quantitative", "axis": null}, "text": {"field": "label"}}},
      {"data": {"values": [{"label": ", 0.5"}]}, "mark": {"type": "text", "fontSize": 21, "align": "left", "baseline": "alphabetic"},
       "encoding": {"x": {"datum": -54.66, "type": "quantitative", "axis": null}, "y": {"datum": 1.27, "type": "quantitative", "axis": null}, "text": {"field": "label"}}}
    ]
  },
  {
    "data": {"name": "inset"},
    "resolve": {"axis": {"x": "independent", "y": "independent"}},
    "layer": [
      {"mark": {"type": "bar"},
       "encoding": {
         "x": {"field": "cond", "type": "nominal", "scale": {"type": "band", "domain": ["Con", "Isop"], "range": [535, 637], "paddingInner": 0.3, "paddingOuter": 0.42},
               "axis": {"orient": "top", "offset": -803, "ticks": false, "labels": false, "domain": true, "title": null}},
         "y": {"field": "vm", "type": "quantitative", "scale": {"domain": [-55, -40], "range": [885.8, 803.3], "nice": false, "zero": false},
               "axis": {"orient": "left", "offset": -535, "values": [-40, -50], "tickSize": 8, "labelPadding": 4, "format": "~f", "title": "Vm (mV)", "titlePadding": 12}},
         "y2": {"datum": -40},
         "color": {"field": "cond", "type": "nominal", "scale": {"domain": ["Con", "Isop"], "range": ["#000000", "#ff0000"]}, "legend": null}}},
      {"mark": {"type": "rule", "strokeWidth": 1.5},
       "encoding": {
         "x": {"field": "cond", "type": "nominal", "axis": null},
         "y": {"field": "vm", "type": "quantitative",
               "axis": {"orient": "left", "offset": -535, "values": [-45, -55], "tickSize": 4, "labels": false, "domain": false, "title": null}},
         "y2": {"field": "lo"},
         "color": {"field": "cond", "type": "nominal", "legend": null}}},
      {"mark": {"type": "tick", "orient": "horizontal", "size": 10, "thickness": 1.5, "opacity": 1},
       "encoding": {
         "x": {"field": "cond", "type": "nominal", "axis": null},
         "y": {"field": "lo", "type": "quantitative", "axis": null},
         "color": {"field": "cond", "type": "nominal", "legend": null}}},
      {"mark": {"type": "text", "fontSize": 21, "angle": 270, "align": "center", "baseline": "middle"},
       "encoding": {
         "x": {"field": "cond", "type": "nominal", "axis": null},
         "y": {"datum": -44.5, "type": "quantitative", "axis": null},
         "text": {"field": "cond"},
         "color": {"condition": {"test": "datum.cond === 'Con'", "value": "#a6a6a6"}, "value": "#f2b0b0"}}},
      {"mark": {"type": "text", "fontSize": 22, "align": "center", "baseline": "alphabetic", "color": "#000000"},
       "encoding": {
         "x": {"field": "cond", "type": "nominal", "axis": null},
         "y": {"datum": -57.5, "type": "quantitative", "axis": null},
         "text": {"field": "sig"}}}
    ]
  }
],
"resolve": {
  "scale": {"x": "independent", "y": "independent", "color": "independent", "shape": "independent"},
  "axis": {"x": "independent", "y": "independent"},
  "legend": {"color": "independent", "shape": "independent"}
}
}
